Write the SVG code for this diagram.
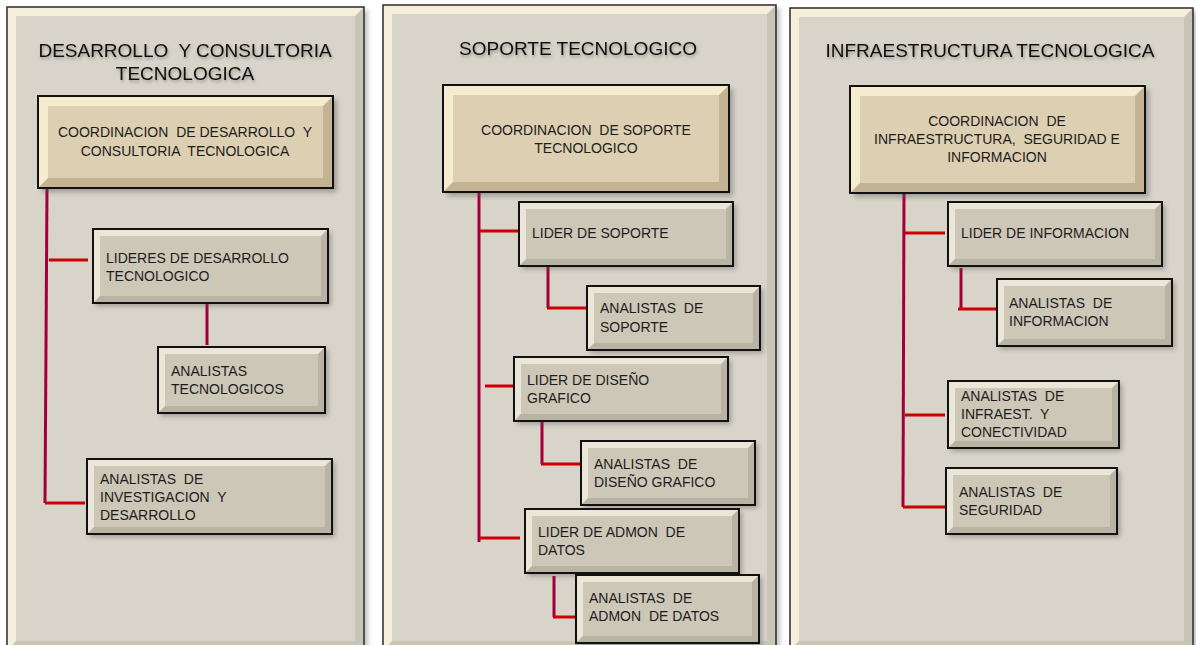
<svg xmlns="http://www.w3.org/2000/svg" width="1196" height="645" viewBox="0 0 1196 645">
<defs>
<filter id="sh" x="-10%" y="-10%" width="130%" height="130%"><feGaussianBlur stdDeviation="2.5"/></filter>
<filter id="tsh" x="-5%" y="-20%" width="110%" height="150%"><feDropShadow dx="1" dy="2" stdDeviation="1.5" flood-color="#000" flood-opacity="0.3"/></filter>
</defs>
<style>
text{white-space:pre}
.psh{fill:#9a9a9a;opacity:.6;filter:url(#sh)}
.pl{fill:#f6efdc}
.pd{fill:#c9c4b8}
.pi{fill:#d8d4c9}
.po{fill:none;stroke:#2b2b2b;stroke-width:1.5}
.bsh{fill:#555;opacity:.45;filter:url(#sh)}
.bl{fill:#ebe6d8}
.bd{fill:#b9b3a4}
.bi{fill:#cdc7b8}
.bo{fill:none;stroke:#111;stroke-width:2}
.cl{fill:#f5ecd0}
.cd{fill:#c2b392}
.ci{fill:#dccfb2}
.t{font-family:"Liberation Sans",Arial,sans-serif;font-size:14px;fill:#1c1c1c}
.tc{text-anchor:middle}
.ti{font-family:"Liberation Sans",Arial,sans-serif;font-size:19px;fill:#111;text-anchor:middle;filter:url(#tsh)}
.tr{fill:none;stroke:#a3003a;stroke-width:3}
.br{fill:none;stroke:#cc0000;stroke-width:3}
</style>
<rect width="1196" height="645" fill="#ffffff"/>
<g id="panels">
<rect class="psh" x="10" y="10" width="358" height="645"/>
<rect class="pl" x="7" y="7" width="357" height="643"/>
<polygon class="pd" points="364,7 364,650 7,650 16,641 355,641 355,16"/>
<rect class="pi" x="16" y="16" width="339" height="625"/>
<rect class="po" x="7" y="7" width="357" height="643"/>
<rect class="psh" x="386" y="8" width="394" height="645"/>
<rect class="pl" x="383" y="5" width="393" height="645"/>
<polygon class="pd" points="776,5 776,650 383,650 392,641 767,641 767,14"/>
<rect class="pi" x="392" y="14" width="375" height="627"/>
<rect class="po" x="383" y="5" width="393" height="645"/>
<rect class="psh" x="793" y="11" width="404" height="645"/>
<rect class="pl" x="790" y="8" width="403" height="642"/>
<polygon class="pd" points="1193,8 1193,650 790,650 799,641 1184,641 1184,17"/>
<rect class="pi" x="799" y="17" width="385" height="624"/>
<rect class="po" x="790" y="8" width="403" height="642"/>
</g>
<g id="titles">
<text class="ti" x="185" y="57">DESARROLLO  Y CONSULTORIA</text>
<text class="ti" x="185" y="80">TECNOLOGICA</text>
<text class="ti" x="578" y="55">SOPORTE TECNOLOGICO</text>
<text class="ti" x="990" y="57">INFRAESTRUCTURA TECNOLOGICA</text>
</g>
<g id="connectors">
<polyline class="tr" points="47,188 45,503"/>
<line class="br" x1="49" y1="260" x2="88" y2="260"/>
<line class="br" x1="45" y1="503" x2="85" y2="503"/>
<line class="tr" x1="207" y1="303" x2="207" y2="345"/>
<line class="tr" x1="479" y1="192" x2="479" y2="542"/>
<line class="br" x1="480" y1="231" x2="519" y2="231"/>
<line class="br" x1="485" y1="386" x2="514" y2="386"/>
<line class="br" x1="480" y1="538" x2="520" y2="538"/>
<polyline class="tr" points="548,266 548,308"/>
<line class="br" x1="547" y1="308" x2="587" y2="308"/>
<polyline class="tr" points="542,421 542,464"/>
<line class="br" x1="541" y1="464" x2="581" y2="464"/>
<polyline class="tr" points="554,576 554,617"/>
<line class="br" x1="553" y1="617" x2="576" y2="617"/>
<line class="tr" x1="904" y1="193" x2="903" y2="507"/>
<line class="br" x1="905" y1="233" x2="945" y2="233"/>
<line class="br" x1="905" y1="415" x2="945" y2="415"/>
<line class="br" x1="903" y1="507" x2="945" y2="507"/>
<polyline class="tr" points="961,268 961,309"/>
<line class="br" x1="958" y1="309" x2="997" y2="309"/>
</g>
<g id="coord-desarrollo">
<rect class="bsh" x="42" y="100" width="295" height="92"/>
<rect class="cl" x="38" y="96" width="295" height="92"/>
<polygon class="cd" points="333,96 333,188 38,188 48,178 323,178 323,106"/>
<rect class="ci" x="48" y="106" width="275" height="72"/>
<rect class="bo" x="38" y="96" width="295" height="92"/>
<text class="t tc" x="185" y="137">COORDINACION  DE DESARROLLO  Y</text>
<text class="t tc" x="185" y="156">CONSULTORIA  TECNOLOGICA</text>
</g>
<g id="lideres-desarrollo">
<rect class="bsh" x="96" y="232" width="235" height="74"/>
<rect class="bl" x="93" y="229" width="235" height="74"/>
<polygon class="bd" points="328,229 328,303 93,303 100,296 321,296 321,236"/>
<rect class="bi" x="100" y="236" width="221" height="60"/>
<rect class="bo" x="93" y="229" width="235" height="74"/>
<text class="t" x="106" y="263">LIDERES DE DESARROLLO</text>
<text class="t" x="106" y="281">TECNOLOGICO</text>
</g>
<g id="analistas-tecnologicos">
<rect class="bsh" x="161" y="350" width="167" height="66"/>
<rect class="bl" x="158" y="347" width="167" height="66"/>
<polygon class="bd" points="325,347 325,413 158,413 165,406 318,406 318,354"/>
<rect class="bi" x="165" y="354" width="153" height="52"/>
<rect class="bo" x="158" y="347" width="167" height="66"/>
<text class="t" x="171" y="376">ANALISTAS</text>
<text class="t" x="171" y="394">TECNOLOGICOS</text>
</g>
<g id="analistas-investigacion">
<rect class="bsh" x="90" y="462" width="245" height="75"/>
<rect class="bl" x="87" y="459" width="245" height="75"/>
<polygon class="bd" points="332,459 332,534 87,534 94,527 325,527 325,466"/>
<rect class="bi" x="94" y="466" width="231" height="61"/>
<rect class="bo" x="87" y="459" width="245" height="75"/>
<text class="t" x="100" y="484">ANALISTAS  DE</text>
<text class="t" x="100" y="502">INVESTIGACION  Y</text>
<text class="t" x="100" y="520">DESARROLLO</text>
</g>
<g id="coord-soporte">
<rect class="bsh" x="447" y="89" width="286" height="107"/>
<rect class="cl" x="443" y="85" width="286" height="107"/>
<polygon class="cd" points="729,85 729,192 443,192 453,182 719,182 719,95"/>
<rect class="ci" x="453" y="95" width="266" height="87"/>
<rect class="bo" x="443" y="85" width="286" height="107"/>
<text class="t tc" x="586" y="135">COORDINACION  DE SOPORTE</text>
<text class="t tc" x="586" y="153">TECNOLOGICO</text>
</g>
<g id="lider-soporte">
<rect class="bsh" x="522" y="205" width="214" height="64"/>
<rect class="bl" x="519" y="202" width="214" height="64"/>
<polygon class="bd" points="733,202 733,266 519,266 526,259 726,259 726,209"/>
<rect class="bi" x="526" y="209" width="200" height="50"/>
<rect class="bo" x="519" y="202" width="214" height="64"/>
<text class="t" x="532" y="238">LIDER DE SOPORTE</text>
</g>
<g id="analistas-soporte">
<rect class="bsh" x="590" y="289" width="173" height="64"/>
<rect class="bl" x="587" y="286" width="173" height="64"/>
<polygon class="bd" points="760,286 760,350 587,350 594,343 753,343 753,293"/>
<rect class="bi" x="594" y="293" width="159" height="50"/>
<rect class="bo" x="587" y="286" width="173" height="64"/>
<text class="t" x="600" y="313">ANALISTAS  DE</text>
<text class="t" x="600" y="332">SOPORTE</text>
</g>
<g id="lider-diseno">
<rect class="bsh" x="517" y="360" width="214" height="64"/>
<rect class="bl" x="514" y="357" width="214" height="64"/>
<polygon class="bd" points="728,357 728,421 514,421 521,414 721,414 721,364"/>
<rect class="bi" x="521" y="364" width="200" height="50"/>
<rect class="bo" x="514" y="357" width="214" height="64"/>
<text class="t" x="527" y="385">LIDER DE DISEÑO</text>
<text class="t" x="527" y="403">GRAFICO</text>
</g>
<g id="analistas-diseno">
<rect class="bsh" x="584" y="444" width="174" height="64"/>
<rect class="bl" x="581" y="441" width="174" height="64"/>
<polygon class="bd" points="755,441 755,505 581,505 588,498 748,498 748,448"/>
<rect class="bi" x="588" y="448" width="160" height="50"/>
<rect class="bo" x="581" y="441" width="174" height="64"/>
<text class="t" x="594" y="469">ANALISTAS  DE</text>
<text class="t" x="594" y="487">DISEÑO GRAFICO</text>
</g>
<g id="lider-admon">
<rect class="bsh" x="528" y="512" width="214" height="64"/>
<rect class="bl" x="525" y="509" width="214" height="64"/>
<polygon class="bd" points="739,509 739,573 525,573 532,566 732,566 732,516"/>
<rect class="bi" x="532" y="516" width="200" height="50"/>
<rect class="bo" x="525" y="509" width="214" height="64"/>
<text class="t" x="538" y="537">LIDER DE ADMON  DE</text>
<text class="t" x="538" y="555">DATOS</text>
</g>
<g id="analistas-admon">
<rect class="bsh" x="579" y="578" width="183" height="68"/>
<rect class="bl" x="576" y="575" width="183" height="68"/>
<polygon class="bd" points="759,575 759,643 576,643 583,636 752,636 752,582"/>
<rect class="bi" x="583" y="582" width="169" height="54"/>
<rect class="bo" x="576" y="575" width="183" height="68"/>
<text class="t" x="589" y="603">ANALISTAS  DE</text>
<text class="t" x="589" y="621">ADMON  DE DATOS</text>
</g>
<g id="coord-infra">
<rect class="bsh" x="854" y="90" width="295" height="107"/>
<rect class="cl" x="850" y="86" width="295" height="107"/>
<polygon class="cd" points="1145,86 1145,193 850,193 860,183 1135,183 1135,96"/>
<rect class="ci" x="860" y="96" width="275" height="87"/>
<rect class="bo" x="850" y="86" width="295" height="107"/>
<text class="t tc" x="997" y="126">COORDINACION  DE</text>
<text class="t tc" x="997" y="144">INFRAESTRUCTURA,  SEGURIDAD E</text>
<text class="t tc" x="997" y="162">INFORMACION</text>
</g>
<g id="lider-informacion">
<rect class="bsh" x="951" y="205" width="214" height="64"/>
<rect class="bl" x="948" y="202" width="214" height="64"/>
<polygon class="bd" points="1162,202 1162,266 948,266 955,259 1155,259 1155,209"/>
<rect class="bi" x="955" y="209" width="200" height="50"/>
<rect class="bo" x="948" y="202" width="214" height="64"/>
<text class="t" x="961" y="238">LIDER DE INFORMACION</text>
</g>
<g id="analistas-informacion">
<rect class="bsh" x="1000" y="282" width="175" height="67"/>
<rect class="bl" x="997" y="279" width="175" height="67"/>
<polygon class="bd" points="1172,279 1172,346 997,346 1004,339 1165,339 1165,286"/>
<rect class="bi" x="1004" y="286" width="161" height="53"/>
<rect class="bo" x="997" y="279" width="175" height="67"/>
<text class="t" x="1009" y="308">ANALISTAS  DE</text>
<text class="t" x="1009" y="326">INFORMACION</text>
</g>
<g id="analistas-infraest">
<rect class="bsh" x="951" y="384" width="171" height="67"/>
<rect class="bl" x="948" y="381" width="171" height="67"/>
<polygon class="bd" points="1119,381 1119,448 948,448 955,441 1112,441 1112,388"/>
<rect class="bi" x="955" y="388" width="157" height="53"/>
<rect class="bo" x="948" y="381" width="171" height="67"/>
<text class="t" x="961" y="401">ANALISTAS  DE</text>
<text class="t" x="961" y="419">INFRAEST.  Y</text>
<text class="t" x="961" y="437">CONECTIVIDAD</text>
</g>
<g id="analistas-seguridad">
<rect class="bsh" x="949" y="471" width="171" height="66"/>
<rect class="bl" x="946" y="468" width="171" height="66"/>
<polygon class="bd" points="1117,468 1117,534 946,534 953,527 1110,527 1110,475"/>
<rect class="bi" x="953" y="475" width="157" height="52"/>
<rect class="bo" x="946" y="468" width="171" height="66"/>
<text class="t" x="959" y="497">ANALISTAS  DE</text>
<text class="t" x="959" y="515">SEGURIDAD</text>
</g>
</svg>
